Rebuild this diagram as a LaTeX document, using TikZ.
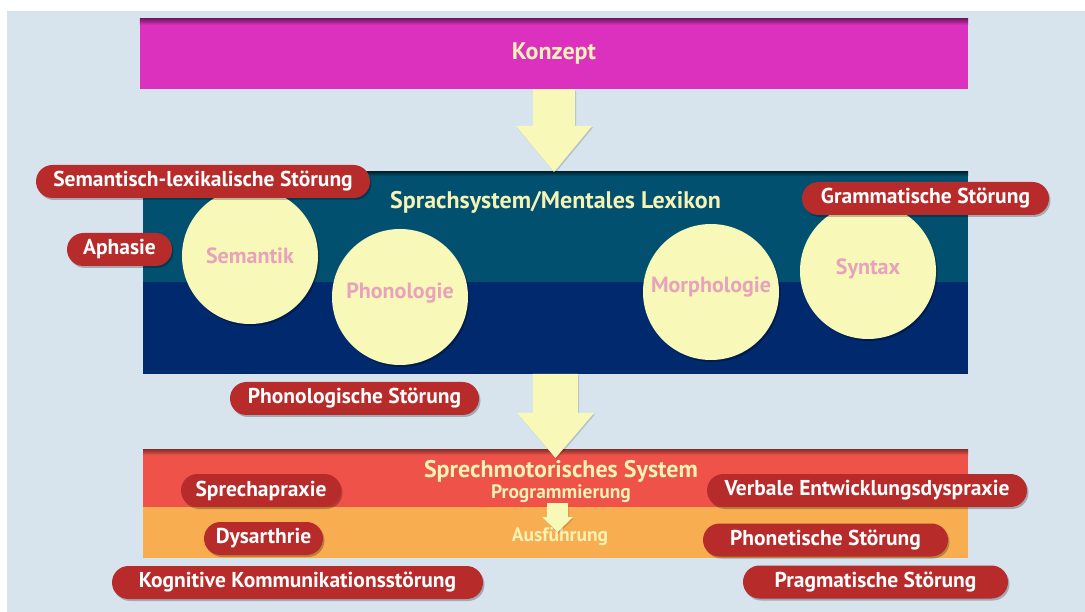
\documentclass[tikz,border=0pt]{standalone}
\usepackage{fontspec}
\setmainfont{PT Sans}
\usetikzlibrary{shadows,calc}
\definecolor{bg}{HTML}{D7E4EE}
\definecolor{konzeptc}{HTML}{DC30BE}
\definecolor{tealc}{HTML}{02506F}
\definecolor{navyc}{HTML}{01296E}
\definecolor{paley}{HTML}{F8F8B8}
\definecolor{titley}{HTML}{F4F2B4}
\definecolor{pinkt}{HTML}{E8A2BC}
\definecolor{labred}{HTML}{B82B2B}
\definecolor{redc}{HTML}{EE5249}
\definecolor{orangec}{HTML}{F8AE50}
\begin{document}
\begin{tikzpicture}[x=1pt,y=-1pt,
  band/.style={rectangle, inner sep=0pt, outer sep=0pt, minimum width=825pt},
  titletext/.style={text=titley, font=\bfseries\fontsize{24}{28}\selectfont, inner sep=0pt},
  subtext/.style={text=titley, font=\bfseries\fontsize{19.5}{22}\selectfont, inner sep=0pt},
  bubble/.style={circle, fill=paley, minimum size=136pt, inner sep=0pt,
    drop shadow={shadow xshift=1.5pt, shadow yshift=-2pt, opacity=0.3, fill=black}},
  bubbletext/.style={text=pinkt, inner sep=0pt, font=\bfseries\fontsize{22}{26}\selectfont},
  lab/.style={rectangle, rounded corners=16.5pt, fill=labred, text=white, minimum height=33pt,
    inner sep=0pt, font=\bfseries\fontsize{21.5}{24}\selectfont,
    drop shadow={shadow xshift=1.5pt, shadow yshift=-2pt, opacity=0.25, fill=black}},
  blockarrow/.style={fill=paley, drop shadow={shadow xshift=1pt, shadow yshift=-1.5pt, opacity=0.15, fill=black}}
]
\useasboundingbox (0,0) rectangle (1085,612);
\fill[white] (0,0) rectangle (1085,612);
\fill[bg] (7,11) rectangle (1085,612);

% Konzept
\node[rectangle, fill=konzeptc, minimum width=828pt, minimum height=70pt, inner sep=0pt] (konzept) at (554,54) {};
\shade[top color=konzeptc!55!black, bottom color=konzeptc] (konzept.north west) rectangle ($(konzept.north east)+(0,6)$);
\node[titletext] (konzepttext) at (konzept.center) {Konzept};

% Sprachsystem
\node[band, fill=tealc, minimum height=110pt] (sprachtop) at (555.5,227) {};
\node[band, fill=navyc, minimum height=92pt] (sprachbot) at (555.5,328) {};
\shade[top color=tealc!50!black, bottom color=tealc] (sprachtop.north west) rectangle ($(sprachtop.north east)+(0,4)$);
\node[titletext] (sprachtitle) at (555.5,202) {Sprachsystem/Mentales Lexikon};

% Sprechmotorisches System
\node[band, fill=redc, minimum height=58pt] (sprechtop) at (555.5,478) {};
\node[band, fill=orangec, minimum height=51pt] (sprechbot) at (555.5,532.5) {};
\shade[top color=redc!55!black, bottom color=redc] (sprechtop.north west) rectangle ($(sprechtop.north east)+(0,6)$);
\node[titletext] (sprechtitle) at (561,471) {Sprechmotorisches System};
\node[subtext] (prog) at (561,494) {Programmierung};
\node[subtext] (ausf) at (560,537) {Ausführung};

% Arrows
\coordinate (tipA) at (konzept.south |- sprachtop.north);
\fill[blockarrow] ($(konzept.south)+(-21,0)$) -- ($(konzept.south)+(21,0)$)
  -- ($(tipA)+(21,-46)$) -- ($(tipA)+(38,-46)$) -- (tipA)
  -- ($(tipA)+(-38,-46)$) -- ($(tipA)+(-21,-46)$) -- cycle;
\coordinate (tipB) at ($(sprachbot.south |- sprechtop.north)+(0,9)$);
\fill[blockarrow] ($(sprachbot.south)+(-22.5,0)$) -- ($(sprachbot.south)+(22.5,0)$)
  -- ($(tipB)+(22.5,-45)$) -- ($(tipB)+(38.5,-45)$) -- (tipB)
  -- ($(tipB)+(-38.5,-45)$) -- ($(tipB)+(-22.5,-45)$) -- cycle;
\coordinate (sa) at (557.5,503);
\coordinate (sb) at (557.5,532);
\fill[blockarrow] ($(sa)+(-10.5,0)$) -- ($(sa)+(10.5,0)$)
  -- ($(sb)+(10.5,-15)$) -- ($(sb)+(15.5,-15)$) -- (sb)
  -- ($(sb)+(-15.5,-15)$) -- ($(sb)+(-10.5,-15)$) -- cycle;

% Circles
\node[bubble] (sem) at (250,256) {};
\node[bubbletext] (semt) at (250,256) {Semantik};
\node[bubble] (phon) at (400,297) {};
\node[bubbletext] (phont) at (400,293) {Phonologie};
\node[bubble] (morph) at (711,292) {};
\node[bubbletext] (morpht) at (711,287) {Morphologie};
\node[bubble] (syn) at (868,271) {};
\node[bubbletext] (synt) at (868,269) {Syntax};

% Labels
\node[lab, minimum width=334pt] (semlex) at (203,181.5) {Semantisch-lexikalische Störung};
\node[lab, minimum width=105pt] (aphasie) at (119.5,249.5) {Aphasie};
\node[lab, minimum width=247pt] (gramm) at (925.5,198.5) {Grammatische Störung};
\node[lab, minimum width=249pt] (phonst) at (354.5,398.5) {Phonologische Störung};
\node[lab, minimum width=160pt] (sprechapr) at (261,490.5) {Sprechapraxie};
\node[lab, minimum width=119pt] (dysar) at (263.5,538.5) {Dysarthrie};
\node[lab, minimum width=371pt] (kogn) at (297.5,582.5) {Kognitive Kommunikationsstörung};
\node[lab, minimum width=320pt] (verbal) at (867,490.5) {Verbale Entwicklungsdyspraxie};
\node[lab, minimum width=245pt] (phonet) at (825.5,540) {Phonetische Störung};
\node[lab, minimum width=265pt] (pragm) at (875.5,582) {Pragmatische Störung};
\end{tikzpicture}
\end{document}
